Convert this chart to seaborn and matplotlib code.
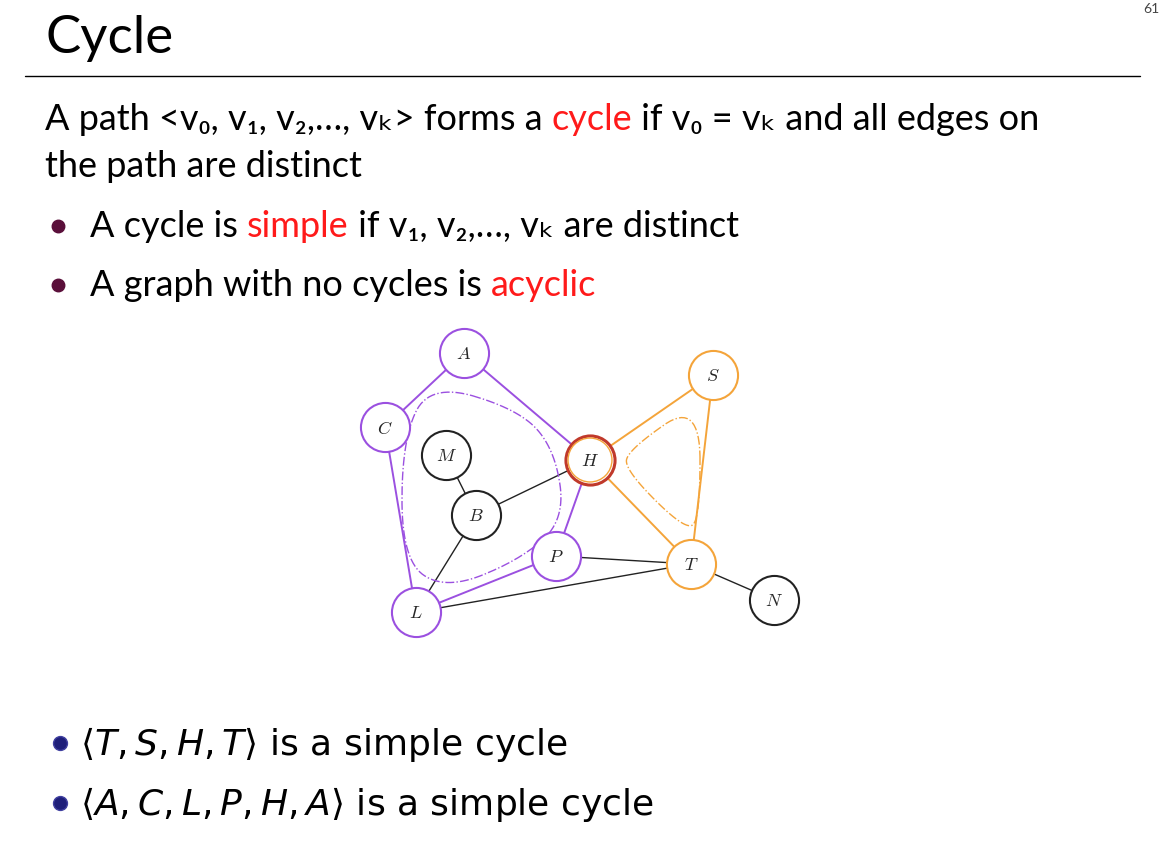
import numpy as np
import pandas as pd
import matplotlib
matplotlib.use("Agg")
import matplotlib.pyplot as plt
import seaborn as sns

sns.set_theme(style="white")
plt.rcParams['font.family'] = ['Lato', 'DejaVu Sans']
plt.rcParams['mathtext.fontset'] = 'dejavusans'

# ---- data ----
node_names = ["A", "S", "C", "M", "H", "B", "P", "T", "N", "L"]
node_x = [464, 713, 385, 446, 590, 476, 556, 691, 774, 416]
node_y = [353, 375, 427, 455, 460, 515, 556, 564, 600, 612]
node_group = ["cyc1", "cyc2", "cyc1", "none", "both", "none", "cyc1", "cyc2", "none", "cyc1"]
edges_cyc1 = [("A", "C"), ("C", "L"), ("L", "P"), ("P", "H"), ("H", "A")]
edges_cyc2 = [("T", "S"), ("S", "H"), ("H", "T")]
edges_plain = [("M", "B"), ("B", "H"), ("B", "L"), ("P", "T"), ("L", "T"), ("T", "N")]
loop1 = [(430, 383), (520, 410), (555, 450), (565, 520), (520, 560), (445, 590), (402, 560), (402, 440)]
loop2 = [(700, 400), (700, 520), (685, 530), (625, 470), (628, 450)]

PURPLE = "#9b50e0"
ORANGE = "#f4a43a"
RED = "#ff1a1a"

fig = plt.figure(figsize=(11.68, 8.42), dpi=100)
ax = fig.add_axes([0, 0, 1, 1])
ax.set_xlim(0, 1168)
ax.set_ylim(842, 0)
ax.axis("off")

pos = dict(zip(node_names, zip(node_x, node_y)))

def draw_edges(edges, color, lw):
    for a, b in edges:
        ax.plot([pos[a][0], pos[b][0]], [pos[a][1], pos[b][1]], color=color, lw=lw, zorder=1)

draw_edges(edges_plain, "#222222", 1.0)
draw_edges(edges_cyc1, PURPLE, 1.4)
draw_edges(edges_cyc2, ORANGE, 1.4)

def smooth_loop(pts, it=4):
    p = np.array(pts, float)
    for _ in range(it):
        q = np.roll(p, -1, axis=0)
        p = np.vstack([0.75 * p + 0.25 * q, 0.25 * p + 0.75 * q]).reshape(2, -1, 2).transpose(1, 0, 2).reshape(-1, 2)
    return np.vstack([p, p[:1]])

for pts, c in [(loop1, PURPLE), (loop2, ORANGE)]:
    s = smooth_loop(pts)
    ax.plot(s[:, 0], s[:, 1], color=c, lw=1.0, ls="-.", zorder=1)

df = pd.DataFrame({"x": node_x, "y": node_y, "g": node_group})
pal = {"cyc1": PURPLE, "cyc2": ORANGE, "none": "#222222", "both": "#c0392b"}
for g, ec in pal.items():
    sub = df[df.g == g]
    sns.scatterplot(data=sub, x="x", y="y", ax=ax, s=1250, color="white",
                    edgecolor=ec, linewidth=1.5 if g != "both" else 2.2, zorder=3, legend=False)
hsub = df[df.g == "both"]
sns.scatterplot(data=hsub, x="x", y="y", ax=ax, s=1000, color="none",
                edgecolor=ORANGE, linewidth=1.0, zorder=4, legend=False)
for n, x, y in zip(node_names, node_x, node_y):
    ax.text(x, y + 1, f"${n}$", ha="center", va="center", fontsize=13, zorder=5,
            math_fontfamily='cm')
ax.set_xlabel(""); ax.set_ylabel("")
ax.set_xlim(0, 1168); ax.set_ylim(842, 0)

# ---- text ----
ax.text(45, 38, "Cycle", fontsize=38, va="center", ha="left", color="black")
ax.plot([25, 1140], [76, 76], color="black", lw=1.0)
ax.text(1143, 3, "61", fontsize=10, color="#444444", va="top", ha="left")

fig.canvas.draw()
renderer = fig.canvas.get_renderer()
inv = ax.transData.inverted()

def rich(x, y, pieces, size=26):
    for txt, col in pieces:
        t = ax.text(x, y, txt, fontsize=size, color=col, va="baseline", ha="left")
        bb = t.get_window_extent(renderer)
        x = inv.transform((bb.x1, bb.y0))[0]

K = "black"
rich(45, 130, [("A path <v₀, v₁, v₂,…, vₖ> forms a ", K), ("cycle", RED), (" if v₀ = vₖ and all edges on", K)])
rich(45, 177, [("the path are distinct", K)])
for yb in (227, 286):
    ax.plot(58, yb - 1, "o", color="#5a0f3a", ms=9)
rich(90, 237, [("A cycle is ", K), ("simple", RED), (" if v₁, v₂,…, vₖ are distinct", K)])
rich(90, 296, [("A graph with no cycles is ", K), ("acyclic", RED)])

for yb, s in [(743, r"$\langle T, S, H, T\rangle$ is a simple cycle"),
              (803, r"$\langle A, C, L, P, H, A\rangle$ is a simple cycle")]:
    ax.plot(60, yb, "o", color="#1f1f7a", ms=10, markeredgecolor="#4040a0")
    ax.text(80, yb + 1, s, fontsize=26, va="center", ha="left", family="DejaVu Sans",
            color="black")

fig.savefig("out.png", dpi=100)
